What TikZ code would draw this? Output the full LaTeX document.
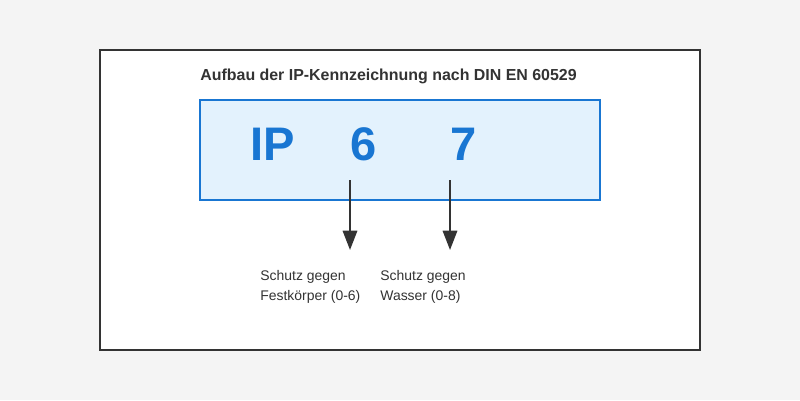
\documentclass[tikz,border=0pt]{standalone}
\usepackage{fontspec}
\setmainfont{Liberation Sans}
\usetikzlibrary{arrows.meta}
\definecolor{bgGray}{HTML}{F4F4F4}
\definecolor{darkGray}{HTML}{333333}
\definecolor{ipBlue}{HTML}{1976D2}
\definecolor{ipFill}{HTML}{E3F2FD}

\begin{document}
\begin{tikzpicture}[x=0.02cm,y=-0.02cm,
    txt/.style={anchor=base west,inner sep=0pt,text=darkGray},
    digit/.style={anchor=base west,inner sep=0pt,text=ipBlue,
        font=\fontsize{26.8}{30}\selectfont\bfseries},
    pointer/.style={draw=darkGray,line width=1.13pt,
        -{Triangle[length=11pt,width=8.2pt]}}]
    % Background and frame
    \fill[bgGray] (0,0) rectangle (800,400);
    \draw[darkGray,line width=1.13pt,fill=white] (100,50) rectangle (700,350);
    \node[txt,font=\fontsize{9.07}{11}\selectfont\bfseries] (title) at (200,80)
        {Aufbau der IP-Kennzeichnung nach DIN EN 60529};
    % Code box
    \draw[ipBlue,line width=1.13pt,fill=ipFill] (200,100) rectangle (600,200);
    \node[digit] (ip) at (250,160) {IP};
    \node[digit] (first) at (350,160) {6};
    \node[digit] (second) at (450,160) {7};
    % Pointers
    \coordinate (firstTop) at (350,180);
    \coordinate (firstEnd) at (350,250);
    \coordinate (secondTop) at (450,180);
    \coordinate (secondEnd) at (450,250);
    \draw[pointer] (firstTop) -- (firstEnd);
    \draw[pointer] (secondTop) -- (secondEnd);
    % Labels (base = last line)
    \node[txt,font=\fontsize{7.94}{11.34}\selectfont,align=left] (solids) at (260,300)
        {Schutz gegen\\Festkörper (0-6)};
    \node[txt,font=\fontsize{7.94}{11.34}\selectfont,align=left] (water) at (380,300)
        {Schutz gegen\\Wasser (0-8)};
\end{tikzpicture}
\end{document}
